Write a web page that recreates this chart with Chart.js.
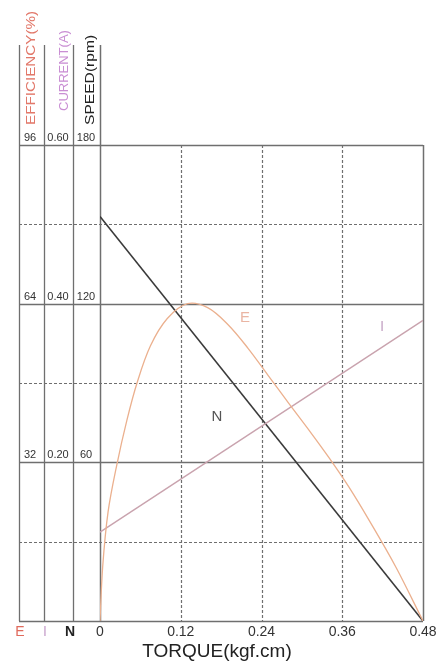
<!DOCTYPE html>
<html>
<head>
<meta charset="utf-8">
<script src="https://cdn.jsdelivr.net/npm/chart.js@4/dist/chart.umd.min.js"></script>
<style>
html,body{margin:0;padding:0;background:#fff;}
canvas{display:block;}
</style>
</head>
<body>
<canvas id="c" width="436" height="665"></canvas>
<script>
// ---- data ----
const torqueTicks = [0, 0.12, 0.24, 0.36, 0.48];
const torqueLabels = ['0', '0.12', '0.24', '0.36', '0.48'];
const speedTicks = [60, 120, 180];
const speedTickLabels = ['60', '120', '180'];
const currentTickLabels = ['0.20', '0.40', '0.60'];
const effTickLabels = ['32', '64', '96'];
const speedTorque = [0, 0.48];
const speedValues = [153, 0];
const currentTorque = [0, 0.48];
const currentValues = [0.112, 0.379];
const effTorque = [0, 0.004, 0.012, 0.025, 0.04, 0.055, 0.075, 0.1, 0.13, 0.16, 0.19, 0.22, 0.25, 0.28, 0.31, 0.34, 0.37, 0.40, 0.44, 0.48];
const effValues = [0, 11, 22, 31.5, 40.5, 48, 55.5, 61, 64, 63.2, 59.8, 55, 49.5, 44, 38.6, 33, 27, 20.3, 10.8, 0];

const pts = (xs, ys) => xs.map((x, i) => ({x: x, y: ys[i]}));

const colLines = [19, 44, 73];
const GRID = '#6f6f6f';

const decor = {
  id: 'decor',
  beforeDatasetsDraw(chart) {
    const ctx = chart.ctx;
    const xs = chart.scales.x, ys = chart.scales.yN;
    const a = chart.chartArea;
    ctx.save();
    ctx.strokeStyle = GRID;
    for (let i = 0; i <= 6; i++) {
      const v = i * 30;
      const y = Math.round(ys.getPixelForValue(v)) + 0.5;
      const solid = (v % 60 === 0);
      ctx.lineWidth = solid ? 1.5 : 1.2;
      ctx.setLineDash(solid ? [] : [3, 2]);
      ctx.beginPath();
      ctx.moveTo(colLines[0], y);
      ctx.lineTo(a.right, y);
      ctx.stroke();
    }
    torqueTicks.forEach((t, i) => {
      const x = Math.round(xs.getPixelForValue(t)) + 0.5;
      const edge = (i === 0 || i === torqueTicks.length - 1);
      ctx.lineWidth = edge ? 1.5 : 1.2;
      ctx.setLineDash(edge ? [] : [3, 2]);
      ctx.beginPath();
      ctx.moveTo(x, i === 0 ? 45 : a.top);
      ctx.lineTo(x, a.bottom);
      ctx.stroke();
    });
    ctx.setLineDash([]);
    ctx.lineWidth = 1.3;
    colLines.forEach(x => {
      ctx.beginPath();
      ctx.moveTo(x + 0.5, 45);
      ctx.lineTo(x + 0.5, a.bottom);
      ctx.stroke();
    });
    ctx.restore();
  },
  afterDraw(chart) {
    const ctx = chart.ctx;
    const xs = chart.scales.x, ys = chart.scales.yN;
    ctx.save();
    ctx.font = '11px "Liberation Sans", Arial, sans-serif';
    ctx.fillStyle = '#333';
    ctx.textAlign = 'center';
    ctx.textBaseline = 'alphabetic';
    speedTicks.forEach((v, i) => {
      const y = ys.getPixelForValue(v) - 4;
      ctx.fillText(effTickLabels[i], 30, y);
      ctx.fillText(currentTickLabels[i], 58, y);
      ctx.fillText(speedTickLabels[i], 86, y);
    });
    const rot = (text, x, yEnd, color, font, sx) => {
      ctx.save();
      ctx.translate(x, yEnd);
      ctx.rotate(-Math.PI / 2);
      ctx.scale(sx, 1);
      ctx.font = font;
      ctx.fillStyle = color;
      ctx.textAlign = 'left';
      ctx.textBaseline = 'middle';
      ctx.fillText(text, 0, 0);
      ctx.restore();
    };
    rot('EFFICIENCY(%)', 31, 125, '#e2786a', '13px "Liberation Sans", Arial, sans-serif', 1.17);
    rot('CURRENT(A)', 64, 111, '#c98ed3', '13px "Liberation Sans", Arial, sans-serif', 1.0);
    rot('SPEED(rpm)', 90, 125, '#222', '13px "Liberation Sans", Arial, sans-serif', 1.2);
    ctx.textAlign = 'center';
    ctx.textBaseline = 'middle';
    ctx.font = '14px "Liberation Sans", Arial, sans-serif';
    ctx.fillStyle = '#e06a5c';
    ctx.fillText('E', 20, 632);
    ctx.fillStyle = '#c8a2cc';
    ctx.fillText('I', 45, 632);
    ctx.fillStyle = '#222';
    ctx.font = 'bold 14px "Liberation Sans", Arial, sans-serif';
    ctx.fillText('N', 70, 632);
    ctx.font = '14px "Liberation Sans", Arial, sans-serif';
    ctx.fillStyle = '#333';
    torqueTicks.forEach((t, i) => {
      ctx.fillText(torqueLabels[i], xs.getPixelForValue(t), 632);
    });
    ctx.font = '19px "Liberation Sans", Arial, sans-serif';
    ctx.fillStyle = '#222';
    ctx.fillText('TORQUE(kgf.cm)', 217, 652);
    ctx.font = '15px "Liberation Sans", Arial, sans-serif';
    ctx.fillStyle = '#eab5a3';
    ctx.fillText('E', 245, 318);
    ctx.fillStyle = '#c8a8c8';
    ctx.fillText('I', 382, 327);
    ctx.fillStyle = '#555';
    ctx.fillText('N', 217, 417);
    ctx.restore();
  }
};

new Chart(document.getElementById('c'), {
  type: 'line',
  data: {
    datasets: [
      {label: 'E', data: pts(effTorque, effValues), yAxisID: 'yE', borderColor: '#ebb08e', borderWidth: 1.3, tension: 0.35, pointRadius: 0, fill: false},
      {label: 'I', data: pts(currentTorque, currentValues), yAxisID: 'yI', borderColor: '#c9a3ae', borderWidth: 1.4, pointRadius: 0, fill: false},
      {label: 'N', data: pts(speedTorque, speedValues), yAxisID: 'yN', borderColor: '#3a3a3a', borderWidth: 1.6, pointRadius: 0, fill: false}
    ]
  },
  options: {
    responsive: false,
    animation: false,
    layout: {padding: {left: 100, right: 13, top: 145, bottom: 44}},
    plugins: {legend: {display: false}, tooltip: {enabled: false}},
    scales: {
      x: {type: 'linear', min: 0, max: 0.48, display: false},
      yN: {type: 'linear', min: 0, max: 180, display: false},
      yI: {type: 'linear', min: 0, max: 0.6, display: false},
      yE: {type: 'linear', min: 0, max: 96, display: false}
    }
  },
  plugins: [decor]
});
</script>
</body>
</html>
